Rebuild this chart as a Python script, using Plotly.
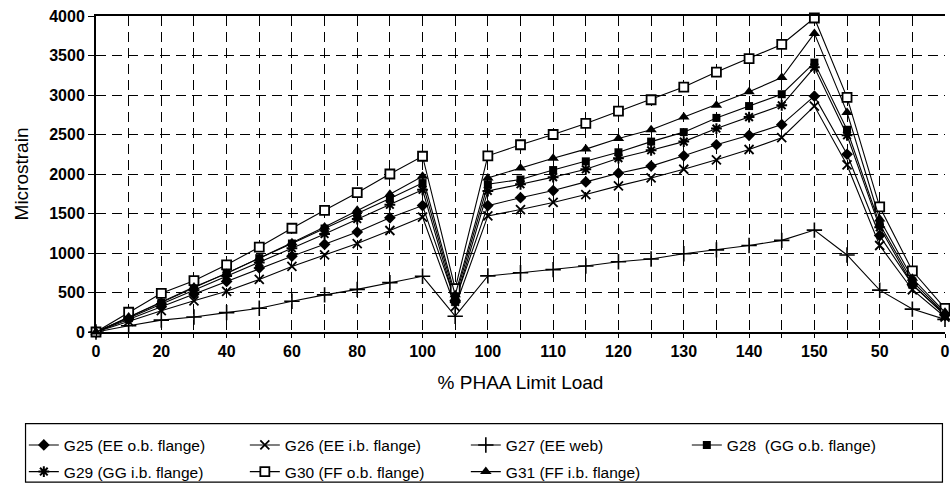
import plotly.graph_objects as go

# Category labels (x positions are category indices)
x_labels = ["0", "10", "20", "30", "40", "50", "60", "70", "80", "90", "100",
            "0", "100", "105", "110", "115", "120", "125", "130", "135", "140", "145", "150",
            "100", "50", "25", "0"]

g25 = [0, 160, 320, 480, 640, 810, 960, 1110, 1265, 1445, 1600,
       400, 1600, 1700, 1790, 1900, 2010, 2100, 2230, 2370, 2490, 2625, 2985,
       2250, 1220, 600, 220]
g26 = [0, 135, 270, 395, 515, 665, 830, 975, 1120, 1285, 1455,
       320, 1470, 1550, 1640, 1740, 1850, 1950, 2060, 2180, 2310, 2460, 2860,
       2115, 1095, 535, 190]
g27 = [0, 80, 150, 190, 245, 300, 390, 470, 540, 625, 705,
       200, 710, 750, 790, 835, 890, 925, 990, 1040, 1095, 1160, 1290,
       975, 530, 290, 160]
g28 = [0, 185, 370, 560, 745, 935, 1120, 1310, 1495, 1690, 1885,
       430, 1870, 1930, 2050, 2160, 2275, 2410, 2530, 2710, 2860, 3010, 3410,
       2560, 1365, 640, 230]
g29 = [0, 175, 350, 530, 710, 880, 1060, 1240, 1430, 1610, 1800,
       380, 1785, 1870, 1960, 2060, 2200, 2300, 2410, 2575, 2720, 2870, 3350,
       2490, 1325, 600, 210]
g30 = [0, 250, 490, 650, 850, 1075, 1313, 1540, 1763, 2000, 2225,
       550, 2230, 2370, 2500, 2640, 2795, 2940, 3100, 3290, 3460, 3640, 3975,
       2970, 1585, 775, 300]
g31 = [0, 190, 380, 570, 740, 930, 1130, 1330, 1540, 1745, 1970,
       470, 1950, 2075, 2200, 2315, 2450, 2560, 2720, 2870, 3040, 3220, 3780,
       2780, 1430, 680, 250]

series = [
    ("G25 (EE o.b. flange)", g25, dict(symbol="diamond", size=9, color="black"), "legend"),
    ("G26 (EE i.b. flange)", g26, dict(symbol="x-thin-open", size=9, color="black", line=dict(width=1.8, color="black")), "legend"),
    ("G27 (EE web)", g27, dict(symbol="cross-thin-open", size=11, color="black", line=dict(width=1.6, color="black")), "legend"),
    ("G28  (GG o.b. flange)", g28, dict(symbol="square", size=8, color="black"), "legend"),
    ("G29 (GG i.b. flange)", g29, dict(symbol="asterisk-open", size=9, color="black", line=dict(width=2, color="black")), "legend2"),
    ("G30 (FF o.b. flange)", g30, dict(symbol="square", size=9, color="white", line=dict(width=1.8, color="black")), "legend2"),
    ("G31 (FF i.b. flange)", g31, dict(symbol="triangle-up", size=10, color="black"), "legend2"),
]

FONT = "Liberation Sans, Arial, sans-serif"
x_idx = list(range(len(x_labels)))

fig = go.Figure()
for name, vals, mk, lg in series:
    fig.add_trace(go.Scatter(
        x=x_idx, y=vals, mode="lines+markers", name=name,
        line=dict(color="black", width=1.1), marker=mk,
        cliponaxis=False, legend=lg,
    ))

tick_text = [lab if i % 2 == 0 else "" for i, lab in enumerate(x_labels)]

legend_common = dict(
    orientation="h", x=-0.085, xanchor="left", yanchor="top",
    entrywidth=176, entrywidthmode="pixels", itemwidth=30,
    font=dict(size=15.5, family=FONT), bgcolor="rgba(0,0,0,0)", borderwidth=0,
)

fig.update_layout(
    width=950, height=489,
    margin=dict(l=96, r=0, t=16, b=153),
    paper_bgcolor="white", plot_bgcolor="white",
    font=dict(family=FONT, color="black", size=14),
    xaxis=dict(
        range=[0, 26.0], tickmode="array", tickvals=x_idx, ticktext=tick_text,
        showgrid=True, gridcolor="black", gridwidth=1, griddash="10px,6px",
        showline=True, linecolor="black", linewidth=2, mirror=True,
        ticks="outside", ticklen=4, tickcolor="black",
        ticklabeloverflow="allow",
        tickfont=dict(size=16, family=FONT, weight="bold"),
        title=dict(text="% PHAA Limit Load", font=dict(size=19, family=FONT), standoff=16),
        zeroline=False,
    ),
    yaxis=dict(
        range=[0, 4000], dtick=500, tick0=0,
        showgrid=True, gridcolor="black", gridwidth=1, griddash="10px,6px",
        showline=True, linecolor="black", linewidth=2,
        ticks="outside", ticklen=6, tickcolor="black",
        tickfont=dict(size=16, family=FONT, weight="bold"),
        title=dict(text="Microstrain", font=dict(size=19, family=FONT), standoff=16),
        zeroline=False,
    ),
    legend=dict(legend_common, y=-0.305),
    legend2=dict(legend_common, y=-0.39),
    showlegend=True,
    shapes=[dict(type="rect", xref="paper", yref="paper",
                 x0=-0.083, x1=0.997, y0=-0.475, y1=-0.29,
                 line=dict(color="black", width=1.2), fillcolor="rgba(0,0,0,0)")],
)

fig.write_html("out.html")
